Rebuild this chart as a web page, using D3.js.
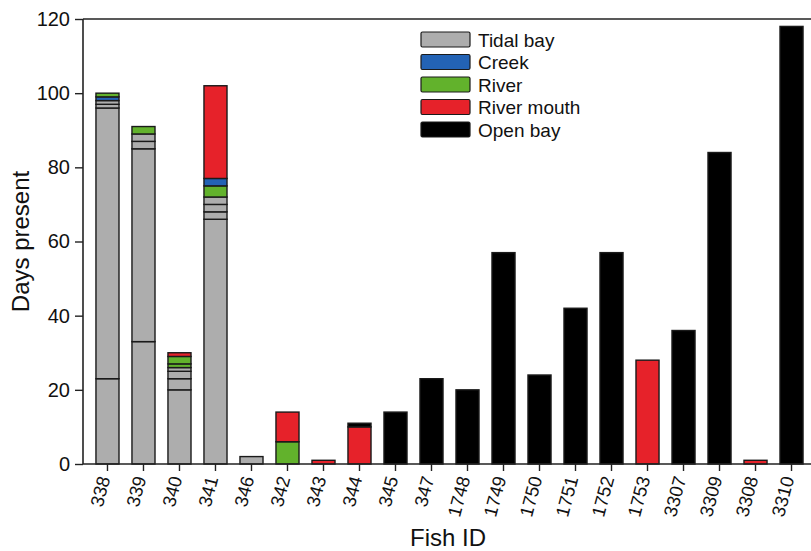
<!DOCTYPE html>
<html>
<head>
<meta charset="utf-8">
<script src="https://cdn.jsdelivr.net/npm/d3@7"></script>
<style>
  body { margin: 0; background: #fff; }
  svg { display: block; font-family: "Liberation Sans", Arial, sans-serif; }
</style>
</head>
<body>
<svg id="chart" width="811" height="551"></svg>
<script>
// fish ids in plotted order
const fishIds = ["338", "339", "340", "341", "346", "342", "343", "344", "345", "347",
    "1748", "1749", "1750", "1751", "1752", "1753", "3307", "3309", "3308", "3310"];

const habitats = ["Tidal bay", "Creek", "River", "River mouth", "Open bay"];
const habitatColors = ["#adadad", "#2363b5", "#62b22c", "#e6222a", "#000000"];

// days in each habitat visit, bottom to top
const visits = [
    [["Tidal bay", 23], ["Tidal bay", 73], ["Tidal bay", 1], ["Tidal bay", 1], ["Creek", 1], ["River", 1]],
    [["Tidal bay", 33], ["Tidal bay", 52], ["Tidal bay", 2], ["Tidal bay", 2], ["River", 2]],
    [["Tidal bay", 20], ["Tidal bay", 3], ["Tidal bay", 2], ["Tidal bay", 1], ["River", 1], ["River", 2], ["River mouth", 1]],
    [["Tidal bay", 66], ["Tidal bay", 2], ["Tidal bay", 2], ["Tidal bay", 2], ["River", 3], ["Creek", 2], ["River mouth", 25]],
    [["Tidal bay", 2]],
    [["River", 6], ["River mouth", 8]],
    [["River mouth", 1]],
    [["River mouth", 10], ["Open bay", 1]],
    [["Open bay", 14]],
    [["Open bay", 23]],
    [["Open bay", 20]],
    [["Open bay", 57]],
    [["Open bay", 24]],
    [["Open bay", 42]],
    [["Open bay", 57]],
    [["River mouth", 28]],
    [["Open bay", 36]],
    [["Open bay", 84]],
    [["River mouth", 1]],
    [["Open bay", 118]]
];

const yTicks = [0, 20, 40, 60, 80, 100, 120];

const svg = d3.select('#chart');
const width = +svg.attr('width');

const margin = { top: 19, left: 83, bottom: 87 };
const plotBottom = +svg.attr('height') - margin.bottom;

const x = d3.scaleBand()
    .domain(fishIds)
    .range([margin.left, 816])
    .paddingInner(0.36)
    .paddingOuter(0.36);

const y = d3.scaleLinear()
    .domain([0, 120])
    .range([plotBottom, margin.top]);

const color = d3.scaleOrdinal().domain(habitats).range(habitatColors);

// flatten segments with running totals
const segs = [];
visits.forEach((list, i) => {
    let acc = 0;
    list.forEach(([hab, days]) => {
        segs.push({ id: fishIds[i], hab: hab, y0: acc, y1: acc + days });
        acc += days;
    });
});

svg.append('g')
    .selectAll('rect')
    .data(segs)
    .enter()
    .append('rect')
    .attr('x', d => x(d.id))
    .attr('width', x.bandwidth())
    .attr('y', d => y(d.y1))
    .attr('height', d => y(d.y0) - y(d.y1))
    .attr('fill', d => color(d.hab))
    .attr('stroke', '#1a1a1a')
    .attr('stroke-width', 1.4);

// axes
const yAxis = svg.append('g')
    .attr('transform', `translate(${margin.left},0)`)
    .call(d3.axisLeft(y).tickValues(yTicks).tickSize(8).tickPadding(5));
yAxis.selectAll('text').style('font-size', '20px').attr('fill', '#111');

const xAxis = svg.append('g')
    .attr('transform', `translate(0,${plotBottom})`)
    .call(d3.axisBottom(x).tickSize(7).tickSizeOuter(0));
xAxis.selectAll('text')
    .style('font-size', '18.5px')
    .attr('fill', '#111')
    .style('text-anchor', 'end')
    .attr('y', 0)
    .attr('x', -13)
    .attr('dy', '0.35em')
    .attr('transform', 'rotate(-75)');

svg.selectAll('.domain').remove();
svg.selectAll('.tick line').attr('stroke', '#222').attr('stroke-width', 1.4);

// frame lines: left, bottom, top
svg.append('line').attr('x1', margin.left).attr('x2', margin.left)
    .attr('y1', y(120)).attr('y2', plotBottom)
    .attr('stroke', '#222').attr('stroke-width', 1.6);
svg.append('line').attr('x1', margin.left).attr('x2', width)
    .attr('y1', plotBottom).attr('y2', plotBottom)
    .attr('stroke', '#222').attr('stroke-width', 1.6);
svg.append('line').attr('x1', margin.left).attr('x2', width)
    .attr('y1', y(120)).attr('y2', y(120))
    .attr('stroke', '#222').attr('stroke-width', 1.6);

// axis titles
svg.append('text')
    .attr('transform', `translate(29,${(y(120) + plotBottom) / 2}) rotate(-90)`)
    .attr('text-anchor', 'middle')
    .style('font-size', '24px')
    .attr('fill', '#111')
    .text('Days present');

svg.append('text')
    .attr('x', 448)
    .attr('y', 546)
    .attr('text-anchor', 'middle')
    .style('font-size', '24px')
    .attr('fill', '#111')
    .text('Fish ID');

// legend
const legend = svg.append('g').attr('transform', 'translate(421,32)');
habitats.forEach((h, i) => {
    const row = legend.append('g').attr('transform', `translate(0,${i * 22.5})`);
    row.append('rect')
        .attr('width', 49).attr('height', 15)
        .attr('rx', 1.5)
        .attr('fill', habitatColors[i])
        .attr('stroke', '#1a1a1a').attr('stroke-width', 1.2);
    row.append('text')
        .attr('x', 57).attr('y', 14.5)
        .style('font-size', '19px')
        .attr('fill', '#111')
        .text(h);
});
</script>
</body>
</html>
